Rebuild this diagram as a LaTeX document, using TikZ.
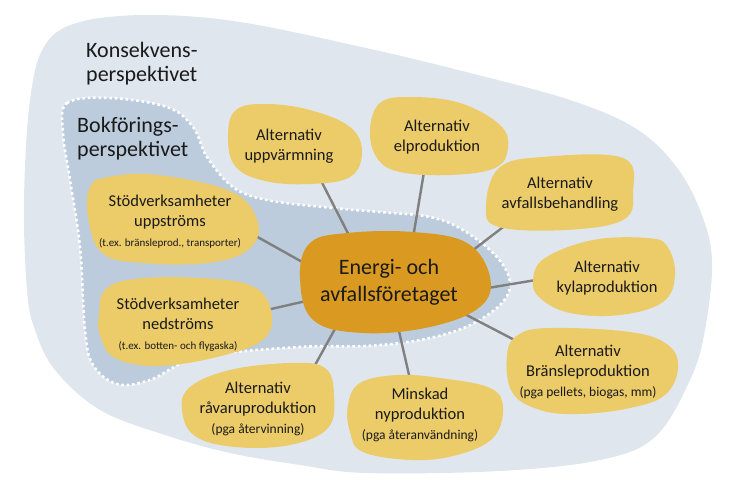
\documentclass[tikz,border=0pt]{standalone}
\usepackage{fontspec}
\setmainfont{Carlito}
\pgfdeclarelayer{bg}
\pgfdeclarelayer{lines}
\pgfdeclarelayer{blobs}
\pgfsetlayers{bg,lines,blobs,main}
\definecolor{outerc}{HTML}{DFE6EE}
\definecolor{innerc}{HTML}{BCCCDC}
\definecolor{yel}{HTML}{ECCB69}
\definecolor{orangec}{HTML}{DA9A21}
\definecolor{linec}{HTML}{808080}
\definecolor{textc}{HTML}{1A1A1A}
\newcommand{\smtxt}{\fontsize{11}{13}\selectfont}
\newcommand{\mdtxt}{\fontsize{13.5}{15}\selectfont}
\tikzset{
  txt/.style={align=center, text=textc, inner sep=0pt, font=\fontsize{16.5}{20}\selectfont},
  ctxt/.style={align=center, text=textc, inner sep=0pt, font=\fontsize{22}{27}\selectfont},
  lbl/.style={align=left, text=textc, inner sep=0pt, anchor=north west, font=\fontsize{22}{24}\selectfont},
  conn/.style={draw=linec, line width=2.4pt},
}
\begin{document}
\begin{tikzpicture}[x=1pt,y=-1pt]
\useasboundingbox (0,0) rectangle (732,494);
% background regions
\begin{pgfonlayer}{bg}
\fill[outerc] plot[smooth cycle, tension=0.6] coordinates {(27,290) (24,200) (30,100) (45,45) (80,22) (150,15) (240,22) (366,48) (470,73) (570,100) (635,128) (675,165) (700,210) (712,260) (705,330) (690,380) (655,437) (600,460) (500,471) (366,473) (300,465) (230,453) (165,435) (100,410) (55,370) (35,330)};
\path[fill=innerc, draw=white, line width=2.6pt, dash pattern=on 2.6pt off 2.8pt] plot[smooth cycle, tension=0.6] coordinates {(63,133) (67,103) (110,98) (167,107) (193,127) (207,157) (233,187) (267,200) (333,208) (380,212) (430,217) (463,230) (497,257) (510,283) (500,305) (466,327) (420,340) (366,346) (300,347) (200,357) (150,380) (117,384) (93,365) (85,330) (80,247) (70,180)};
\end{pgfonlayer}
% labels
\node[lbl] (kons) at (86,42) {Konsekvens-\\perspektivet};
\node[lbl] (bokf) at (77,117) {Bokförings-\\perspektivet};
% text nodes
\node[ctxt] (C) at (389,282) {Energi- och\\avfallsföretaget};
\node[txt] (nU) at (289,146) {Alternativ\\uppvärmning};
\node[txt] (nE) at (437,137) {Alternativ\\elproduktion};
\node[txt] (nA) at (560,194) {Alternativ\\avfallsbehandling};
\node[txt] (nK) at (607,278) {Alternativ\\kylaproduktion};
\node[txt] (nB) at (588,372) {Alternativ\\Bränsleproduktion\\{\mdtxt (pga pellets, biogas, mm)}};
\node[txt] (nM) at (420,415) {Minskad\\nyproduktion\\{\mdtxt (pga återanvändning)}};
\node[txt] (nR) at (258,409) {Alternativ\\råvaruproduktion\\{\mdtxt (pga återvinning)}};
\node[txt] (nN) at (178,325) {Stödverksamheter\\nedströms\\{\smtxt (t.ex. botten- och flygaska)}};
\node[txt] (nS) at (170,222) {Stödverksamheter\\uppströms\\{\smtxt (t.ex. bränsleprod., transporter)}};
% connectors
\begin{pgfonlayer}{lines}
\draw[conn] ([shift={(24,19)}]nU.center) -- ([shift={(-32,-31)}]C.center);
\draw[conn] ([shift={(-11,23)}]nE.center) -- ([shift={(22,-32)}]C.center);
\draw[conn] ([shift={(-49,27)}]nA.center) -- ([shift={(75,-25)}]C.center);
\draw[conn] ([shift={(-59,0)}]nK.center) -- ([shift={(87,8)}]C.center);
\draw[conn] ([shift={(-62,-26)}]nB.center) -- ([shift={(66,27)}]C.center);
\draw[conn] ([shift={(-8,-27)}]nM.center) -- ([shift={(7,36)}]C.center);
\draw[conn] ([shift={(51,-33)}]nR.center) -- ([shift={(-48,36)}]C.center);
\draw[conn] ([shift={(80,-13)}]nN.center) -- ([shift={(-74,17)}]C.center);
\draw[conn] ([shift={(75,8)}]nS.center) -- ([shift={(-76,-14)}]C.center);
\end{pgfonlayer}
% blobs
\begin{pgfonlayer}{blobs}
\fill[orangec] plot[smooth cycle, tension=0.65] coordinates {(300,277) (310,243) (347,233) (413,232) (467,243) (490,277) (480,307) (430,327) (363,333) (313,320)};
\fill[yel] plot[smooth cycle, tension=0.65] coordinates {(228,135) (236,110) (265,104) (310,110) (350,127) (362,152) (350,177) (310,184) (265,181) (235,166)};
\fill[yel] plot[smooth cycle, tension=0.65] coordinates {(370,130) (380,103) (410,97) (460,103) (500,125) (508,148) (495,168) (450,175) (400,172) (377,158)};
\fill[yel] plot[smooth cycle, tension=0.65] coordinates {(486,207) (499,168) (543,157) (623,158) (633,193) (623,220) (566,230) (499,227)};
\fill[yel] plot[smooth cycle, tension=0.65] coordinates {(533,280) (545,258) (593,240) (647,238) (667,246) (675,275) (663,302) (620,315) (570,313) (540,298)};
\fill[yel] plot[smooth cycle, tension=0.65] coordinates {(507,355) (518,335) (550,328) (630,332) (668,345) (678,368) (665,395) (630,408) (580,414) (540,410) (512,392)};
\fill[yel] plot[smooth cycle, tension=0.65] coordinates {(348,405) (360,383) (397,375) (440,378) (490,388) (503,408) (493,438) (457,455) (413,460) (363,452) (350,432)};
\fill[yel] plot[smooth cycle, tension=0.65] coordinates {(182,410) (190,387) (230,370) (290,363) (325,368) (334,395) (328,428) (290,445) (235,447) (195,436)};
\fill[yel] plot[smooth cycle, tension=0.65] coordinates {(99,315) (105,290) (135,279) (200,278) (252,286) (271,310) (265,338) (225,355) (160,366) (115,358) (100,335)};
\fill[yel] plot[smooth cycle, tension=0.65] coordinates {(88,217) (90,187) (108,177) (158,175) (232,192) (258,223) (248,250) (208,263) (142,263) (102,253)};
\end{pgfonlayer}
\end{tikzpicture}
\end{document}
